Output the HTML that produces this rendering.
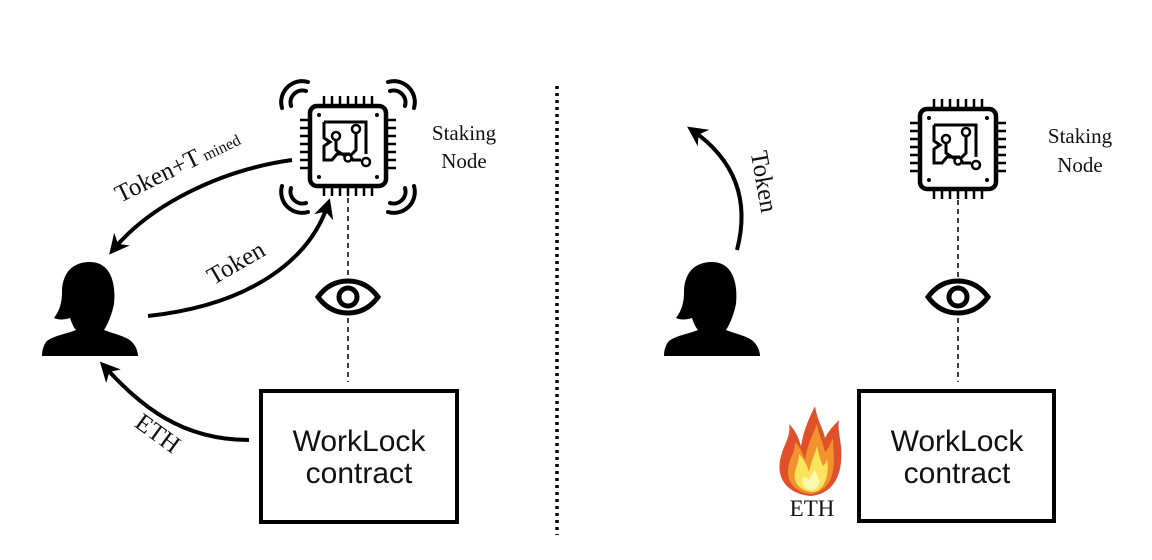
<!DOCTYPE html>
<html><head><meta charset="utf-8"><style>
html,body{margin:0;padding:0;background:#fff;width:1152px;height:560px;overflow:hidden}
svg{display:block}
.serif{font-family:"Liberation Serif",serif;fill:#111}
.sans{font-family:"Liberation Sans",sans-serif;fill:#111}
</style></head><body>
<svg width="1152" height="560" viewBox="0 0 1152 560" xmlns="http://www.w3.org/2000/svg">
<defs>
<g id="chip">
  <rect x="-38" y="-40" width="76" height="80" rx="7" fill="#fff" stroke="#000" stroke-width="4.5"/>
  <g stroke="#000" stroke-width="2.5">
    <path d="M-24 -41v-9M-16 -41v-9M-8 -41v-9M0 -41v-9M8 -41v-9M16 -41v-9M24 -41v-9"/>
    <path d="M-24 41v9M-16 41v9M-8 41v9M0 41v9M8 41v9M16 41v9M24 41v9"/>
    <path d="M-39 -26h-9M-39 -18h-9M-39 -10h-9M-39 -2h-9M-39 6h-9M-39 14h-9M-39 22h-9"/>
    <path d="M39 -26h9M39 -18h9M39 -10h9M39 -2h9M39 6h9M39 14h9M39 22h9"/>
  </g>
  <g fill="none" stroke="#000" stroke-width="3">
    <path d="M-24 -24h42v32M-24 -24v16l6 4l-6 4v14h8l5 -6h12l4 6h8"/>
    <path d="M-12 -6v10l12 8M8 -14v18l-8 8"/>
  </g>
  <g fill="#fff" stroke="#000" stroke-width="2.5">
    <circle cx="-12" cy="-10" r="4"/><circle cx="8" cy="-17" r="4"/><circle cx="0" cy="12" r="3.5"/><circle cx="18" cy="16" r="4"/>
  </g>
  <g fill="#000"><circle cx="-29" cy="-31" r="2"/><circle cx="29" cy="-31" r="2"/><circle cx="-29" cy="31" r="2"/><circle cx="29" cy="31" r="2"/></g>
</g>
<g id="waves" fill="none" stroke="#000" stroke-width="4" stroke-linecap="round">
  <path d="M-11 4A12 12 0 0 1 4 -11M-20 6A21 21 0 0 1 6 -20"/>
</g>
<g id="person" fill="#000">
  <path d="M-3 -45c-20 0 -28 14 -28 30c0 10 -2 18 -8 26c4 2 10 2 16 0c2 6 4 10 6 12c-10 4 -24 6 -30 12c-4 6 -4 12 -4 14h96c0 -4 -2 -10 -6 -14c-6 -6 -18 -8 -28 -12c4 -6 8 -16 10 -26c2 -18 -2 -42 -24 -42z"/>
</g>
<g id="eye">
  <path d="M-30 0c8 -11 18 -16 30 -16s22 5 30 16c-8 11 -18 16 -30 16s-22 -5 -30 -16z" fill="none" stroke="#000" stroke-width="5"/>
  <circle cx="0" cy="0" r="9" fill="none" stroke="#000" stroke-width="5"/>
</g>
<marker id="ah" viewBox="0 0 10 10" refX="7" refY="5" markerWidth="5" markerHeight="5" orient="auto" markerUnits="strokeWidth">
  <path d="M0 0L10 5L0 10L3 5z" fill="#000"/>
</marker>
</defs>

<!-- LEFT -->
<use href="#chip" x="348" y="146"/>
<g transform="translate(302,102)"><use href="#waves"/></g>
<g transform="translate(394,102) scale(-1,1)"><use href="#waves"/></g>
<g transform="translate(302,192) scale(1,-1)"><use href="#waves"/></g>
<g transform="translate(394,192) scale(-1,-1)"><use href="#waves"/></g>
<text class="serif" x="464" y="140" font-size="21" text-anchor="middle">Staking</text>
<text class="serif" x="464" y="168" font-size="21" text-anchor="middle">Node</text>
<line x1="348" y1="198" x2="348" y2="278" stroke="#000" stroke-width="1.5" stroke-dasharray="5,4"/>
<use href="#eye" x="348" y="297"/>
<line x1="348" y1="318" x2="348" y2="382" stroke="#000" stroke-width="1.5" stroke-dasharray="5,4"/>
<rect x="261" y="391" width="196" height="131" fill="none" stroke="#000" stroke-width="4"/>
<text class="sans" x="359" y="451" font-size="30" text-anchor="middle">WorkLock</text>
<text class="sans" x="359" y="483" font-size="30" text-anchor="middle">contract</text>
<use href="#person" x="93" y="307"/>

<path d="M292 160C220 170 150 205 113 250" fill="none" stroke="#000" stroke-width="4" marker-end="url(#ah)"/>
<path d="M148 316C250 305 310 260 328 204" fill="none" stroke="#000" stroke-width="4" marker-end="url(#ah)"/>
<path d="M249 440C180 440 140 405 104 366" fill="none" stroke="#000" stroke-width="4" marker-end="url(#ah)"/>

<text class="serif" font-size="25" transform="translate(120,203) rotate(-26)">Token+T<tspan font-size="16" dx="4">mined</tspan></text>
<text class="serif" font-size="25" text-anchor="middle" transform="translate(240,270) rotate(-30)">Token</text>
<text class="serif" font-size="25" text-anchor="middle" transform="translate(153,440) rotate(36)">ETH</text>

<!-- divider -->
<line x1="557" y1="86" x2="557" y2="535" stroke="#000" stroke-width="3.5" stroke-dasharray="3,4"/>

<!-- RIGHT -->
<use href="#chip" x="958" y="149"/>
<text class="serif" x="1080" y="143" font-size="21" text-anchor="middle">Staking</text>
<text class="serif" x="1080" y="172" font-size="21" text-anchor="middle">Node</text>
<line x1="958" y1="200" x2="958" y2="278" stroke="#000" stroke-width="1.5" stroke-dasharray="5,4"/>
<use href="#eye" x="958" y="297"/>
<line x1="958" y1="318" x2="958" y2="382" stroke="#000" stroke-width="1.5" stroke-dasharray="5,4"/>
<rect x="859" y="391" width="195" height="130" fill="none" stroke="#000" stroke-width="4"/>
<text class="sans" x="957" y="451" font-size="30" text-anchor="middle">WorkLock</text>
<text class="sans" x="957" y="483" font-size="30" text-anchor="middle">contract</text>
<use href="#person" x="715" y="307"/>
<path d="M737 250C750 200 735 160 692 130" fill="none" stroke="#000" stroke-width="4" marker-end="url(#ah)"/>
<text class="serif" font-size="25" text-anchor="middle" transform="translate(756,183) rotate(80)">Token</text>

<!-- flame -->
<g transform="translate(811,450)">
  <path d="M0 46C-24 44 -36 28 -30 6C-26 -8 -20 -14 -22 -26C-14 -18 -12 -10 -10 -4C-8 -18 -2 -32 4 -44C6 -30 12 -22 14 -12C18 -20 24 -26 28 -30C26 -18 32 -6 30 12C28 32 18 44 0 46z" fill="#e0512b"/>
  <path d="M0 44C-18 42 -26 30 -22 14C-20 6 -16 2 -16 -8C-10 -2 -8 4 -6 10C-4 -4 2 -16 6 -26C8 -14 12 -8 14 2C18 -2 20 -8 22 -12C22 -2 24 8 22 20C20 34 12 42 0 44z" fill="#f2922e"/>
  <path d="M0 42C-12 40 -18 32 -16 22C-14 14 -12 10 -12 4C-6 10 -4 16 -2 22C0 12 4 4 6 -4C8 6 10 12 12 16C14 14 16 12 16 8C18 20 16 32 10 38C7 41 4 42 0 42z" fill="#f9e45a"/>
  <path d="M0 40C-7 39 -10 34 -8 28C-6 26 -4 28 -2 30C0 26 2 22 4 20C6 26 10 30 8 34C6 38 4 40 0 40z" fill="#fdf8b0"/>
</g>
<text class="serif" x="812" y="516" font-size="23" text-anchor="middle">ETH</text>
</svg>
</body></html>
